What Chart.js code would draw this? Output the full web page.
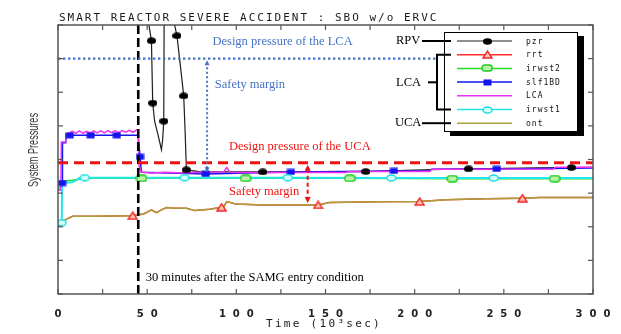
<!DOCTYPE html>
<html>
<head>
<meta charset="utf-8">
<title>SMART reactor severe accident : SBO w/o ERVC</title>
<script src="https://cdn.jsdelivr.net/npm/chart.js@4.4.1/dist/chart.umd.min.js"></script>
<style>
  html, body { margin: 0; padding: 0; background: #fff; }
  #chart { display: block; }
</style>
</head>
<body>
<canvas id="chart" width="621" height="334"></canvas>
<script>
// time is in 10^3 s; the pressure axis of the source plot has no numbers,
// so values are in "tick units" (0..8, one unit per tick mark)
const xLabels = [0, 50, 100, 150, 200, 250, 300];
const xMinorStep = 25;

// RPV (pressurizer) - off the top of the scale until it depressurises
const pzrTime = [0, 50.5, 51.0, 52.4, 53.1, 54.2, 56.1, 58.0, 58.7, 59.3, 59.5, 60, 65, 65.4, 66.7, 68.6, 70.5, 71.3, 72.0, 80, 95, 114.8, 140, 165, 172.6, 209, 230.2, 270, 287.9, 300];
const pzrVal  = [9.5, 9.5, 8.0, 7.53, 5.68, 5.13, 4.73, 4.29, 4.6, 5.14, 8.0, 9.5, 9.5, 8.0, 7.68, 6.8, 5.89, 4.8, 3.69, 3.63, 3.63, 3.63, 3.63, 3.64, 3.64, 3.70, 3.72, 3.75, 3.76, 3.77];
const pzrMarks = [52.4, 53.1, 59.3, 66.7, 70.5, 72.0, 114.8, 172.6, 230.2, 287.9];

// LCA
const lcaTime = [0, 1.6, 1.9, 4.2, 4.4, 6, 8, 10, 12, 14, 16, 18, 20, 22, 24, 26, 28, 30, 32, 34, 36, 38, 40, 42, 44.2, 45.0, 45.5, 46.6, 52, 60, 70, 80, 90, 93, 94.6, 96.5, 100, 130, 161, 163, 200, 208.4, 209.5, 278, 279, 300];
const lcaVal  = [3.1, 3.1, 4.52, 4.52, 4.76, 4.78, 4.84, 4.78, 4.85, 4.78, 4.84, 4.79, 4.85, 4.79, 4.85, 4.79, 4.86, 4.80, 4.86, 4.80, 4.86, 4.81, 4.87, 4.81, 4.88, 4.86, 3.80, 3.63, 3.60, 3.62, 3.60, 3.62, 3.62, 3.64, 3.76, 3.62, 3.61, 3.61, 3.61, 3.64, 3.64, 3.64, 3.71, 3.72, 3.77, 3.77];

// slf1BD (runs along the LCA curve)
const slfTime = [0, 2.0, 2.3, 2.5, 4.3, 4.5, 6.6, 18.3, 33.0, 44.8, 45.5, 46.0, 46.8, 82.8, 130.6, 188.4, 208.5, 209.5, 246.0, 300];
const slfVal  = [3.1, 3.1, 3.30, 4.50, 4.50, 4.72, 4.72, 4.72, 4.72, 4.72, 4.40, 4.08, 3.62, 3.57, 3.63, 3.66, 3.66, 3.71, 3.72, 3.75];
const slfMarks = [2.3, 6.6, 18.3, 33.0, 46.0, 82.8, 130.6, 188.4, 246.0];

// IRWST 2
const irwst2Time = [0, 2.2, 2.4, 8, 15, 46.8, 105.2, 163.6, 221.1, 278.5, 300];
const irwst2Val  = [3.15, 3.15, 3.36, 3.38, 3.44, 3.44, 3.44, 3.44, 3.43, 3.43, 3.43];
const irwst2Marks = [46.8, 105.2, 163.6, 221.1, 278.5];

// IRWST 1
const irwst1Time = [0, 2.1, 2.3, 8, 12, 15, 71, 128.8, 186.9, 244.3, 300];
const irwst1Val  = [2.12, 2.12, 3.30, 3.32, 3.44, 3.46, 3.46, 3.46, 3.45, 3.45, 3.45];
const irwst1Marks = [2.1, 15, 71, 128.8, 186.9, 244.3];

// UCA (containment); rrt follows the same curve
const ontTime = [0, 1, 2.5, 5.4, 8.2, 20, 30, 41.9, 45, 48, 52.4, 55.2, 58, 60.8, 64.4, 72, 76.7, 85, 91.7, 93, 94.6, 99.6, 114.8, 130, 145.8, 152.3, 180, 202.8, 217.7, 240, 260.4, 270, 300];
const ontVal  = [2.02, 2.03, 2.16, 2.24, 2.31, 2.31, 2.32, 2.33, 2.36, 2.38, 2.50, 2.42, 2.50, 2.57, 2.56, 2.55, 2.48, 2.52, 2.58, 2.60, 2.75, 2.68, 2.65, 2.65, 2.65, 2.72, 2.74, 2.75, 2.80, 2.83, 2.85, 2.87, 2.87];
const rrtMarks = [41.9, 91.7, 145.8, 202.8, 260.4];

// reference levels
const lcaDesign = 7.0;
const ucaDesign = 3.9;
const samgEntry = 45;
const lcaDesignEnd = 212.3;
const lcaMarginAt = 83.6, lcaMarginLow = 3.62;
const ucaMarginAt = 140, ucaMarginLow = 2.71;

const blue = '#4472c4';
const red = '#ee1111';

// --- marker sprites (the plot uses flat oval/box symbols) ---
function sprite(w, h, draw) {
    const c = document.createElement('canvas');
    c.width = w; c.height = h;
    draw(c.getContext('2d'), w, h);
    return c;
}
const markPzr = sprite(9, 7, (g, w, h) => {
    g.fillStyle = '#000';
    g.beginPath(); g.ellipse(w / 2, h / 2, w / 2, h / 2 - 0.3, 0, 0, Math.PI * 2); g.fill();
});
const markRrt = sprite(11, 9, g => {
    g.beginPath(); g.moveTo(5.5, 1); g.lineTo(10, 8); g.lineTo(1, 8); g.closePath();
    g.fillStyle = '#ffc8b4'; g.fill();
    g.strokeStyle = '#ee2a2a'; g.lineWidth = 1.4; g.stroke();
});
const markIrwst2 = sprite(12, 8, g => {
    g.beginPath(); g.roundRect(1, 1, 10, 6, 2.5);
    g.fillStyle = '#b8f4a8'; g.fill();
    g.strokeStyle = '#22cc22'; g.lineWidth = 1.4; g.stroke();
});
const markSlf = sprite(9, 7, g => {
    g.fillStyle = '#1414ee'; g.fillRect(0.5, 0.5, 8, 6);
});
const markIrwst1 = sprite(11, 8, g => {
    g.beginPath(); g.ellipse(5.5, 4, 4.5, 3, 0, 0, Math.PI * 2);
    g.fillStyle = '#d4ffff'; g.fill();
    g.strokeStyle = '#18dcdc'; g.lineWidth = 1.4; g.stroke();
});

const series = [
    { name: 'pzr',    t: pzrTime,    v: pzrVal,    marks: pzrMarks,    color: '#1e1e1e', width: 1.2, mark: markPzr },
    { name: 'rrt',    t: ontTime,    v: ontVal,    marks: rrtMarks,    color: '#ff2a2a', width: 1.5, mark: markRrt },
    { name: 'irwst2', t: irwst2Time, v: irwst2Val, marks: irwst2Marks, color: '#22dd22', width: 1.5, mark: markIrwst2 },
    { name: 'slf1BD', t: slfTime,    v: slfVal,    marks: slfMarks,    color: '#1414ee', width: 1.5, mark: markSlf },
    { name: 'LCA',    t: lcaTime,    v: lcaVal,    marks: [],          color: '#f030f0', width: 1.5, mark: null },
    { name: 'irwst1', t: irwst1Time, v: irwst1Val, marks: irwst1Marks, color: '#22e6ee', width: 2,   mark: markIrwst1 },
    { name: 'ont',    t: ontTime,    v: ontVal,    marks: [],          color: '#aaa03a', width: 1.5, mark: null }
];

const datasets = [];
series.forEach((s, i) => {
    const pts = s.t.map((x, k) => ({ x: x, y: s.v[k] }));
    datasets.push({
        label: s.name, data: pts, borderColor: s.color, borderWidth: s.width,
        pointRadius: 0, tension: 0, order: 20 - i
    });
    if (s.marks.length) {
        datasets.push({
            label: s.name + ' symbols', data: pts.filter(p => s.marks.includes(p.x)),
            showLine: false, pointStyle: s.mark, pointRadius: 4, order: 8 - i
        });
    }
});

function hline(ctx, x1, y1, x2, y2) {
    ctx.beginPath(); ctx.moveTo(x1, y1); ctx.lineTo(x2, y2); ctx.stroke();
}
function arrowHead(ctx, x, y, dir, w, h, color) {
    ctx.fillStyle = color;
    ctx.beginPath();
    ctx.moveTo(x, y);
    ctx.lineTo(x - w / 2, y - dir * h);
    ctx.lineTo(x + w / 2, y - dir * h);
    ctx.closePath(); ctx.fill();
}

const notes = [
    { text: 'Design pressure of the LCA', x: 86.6, y: 7.49, color: blue },
    { text: 'Safety margin', x: 87.9, y: 6.22, color: blue },
    { text: 'Design pressure of the UCA', x: 95.9, y: 4.38, color: red },
    { text: 'Safety margin', x: 95.9, y: 3.05, color: red },
    { text: '30 minutes after the SAMG entry condition', x: 49.2, y: 0.48, color: '#000' }
];

const overlay = {
    id: 'overlay',
    beforeDraw(chart) {
        const ctx = chart.ctx;
        ctx.save();
        ctx.fillStyle = '#fff';
        ctx.fillRect(0, 0, chart.width, chart.height);
        ctx.restore();
        ctx.letterSpacing = '7px';   // wide plotter digits on the time axis
    },
    beforeDatasetsDraw(chart) {
        chart.ctx.letterSpacing = '0px';
    },
    afterDatasetsDraw(chart) {
        const ctx = chart.ctx;
        const xs = chart.scales.x, ys = chart.scales.y;
        const { left, right, top, bottom } = chart.chartArea;
        ctx.save();

        // 30 min after SAMG entry
        ctx.strokeStyle = '#000'; ctx.lineWidth = 2.6; ctx.setLineDash([9, 4]);
        const sx = xs.getPixelForValue(samgEntry);
        hline(ctx, sx, top, sx, bottom);

        // UCA design pressure
        ctx.strokeStyle = red; ctx.lineWidth = 3; ctx.setLineDash([10, 6]);
        const uy = ys.getPixelForValue(ucaDesign);
        hline(ctx, left, uy, right, uy);

        // LCA design pressure
        ctx.strokeStyle = blue; ctx.lineWidth = 2.4; ctx.setLineDash([2.4, 2.6]);
        const ly = ys.getPixelForValue(lcaDesign);
        hline(ctx, left, ly, xs.getPixelForValue(lcaDesignEnd), ly);

        // LCA safety margin arrow
        const ax = xs.getPixelForValue(lcaMarginAt);
        const aLow = ys.getPixelForValue(lcaMarginLow);
        ctx.lineWidth = 2; ctx.setLineDash([2, 2.5]);
        hline(ctx, ax, ly + 4, ax, aLow - 4);
        ctx.setLineDash([]);
        arrowHead(ctx, ax, ly + 1.5, -1, 5, 5, blue);
        arrowHead(ctx, ax, aLow, 1, 5, 5, blue);

        // UCA safety margin arrow
        const bx = xs.getPixelForValue(ucaMarginAt);
        const bLow = ys.getPixelForValue(ucaMarginLow);
        ctx.strokeStyle = red; ctx.lineWidth = 2; ctx.setLineDash([4, 3]);
        hline(ctx, bx, uy + 6, bx, bLow - 6);
        ctx.setLineDash([]);
        arrowHead(ctx, bx, uy + 2, -1, 6, 6, red);
        arrowHead(ctx, bx, bLow, 1, 6, 6, red);

        // notes
        ctx.font = '12.5px "Liberation Serif", "DejaVu Serif", serif';
        ctx.textBaseline = 'middle'; ctx.textAlign = 'left';
        notes.forEach(n => {
            ctx.fillStyle = n.color;
            ctx.fillText(n.text, xs.getPixelForValue(n.x), ys.getPixelForValue(n.y));
        });
        ctx.restore();
    },
    afterDraw(chart) {
        const ctx = chart.ctx;
        const xs = chart.scales.x, ys = chart.scales.y;
        const { left, right, top, bottom } = chart.chartArea;
        ctx.save();
        ctx.letterSpacing = '0px';

        // frame with inward ticks on all four sides
        ctx.strokeStyle = '#555'; ctx.lineWidth = 1.5;
        ctx.strokeRect(left, top, right - left, bottom - top);
        ctx.lineWidth = 1.2;
        xs.ticks.forEach(t => {
            const px = xs.getPixelForValue(t.value);
            hline(ctx, px, bottom, px, bottom - 5);
            hline(ctx, px, top, px, top + 5);
        });
        ys.ticks.forEach(t => {
            const py = ys.getPixelForValue(t.value);
            hline(ctx, left, py, left + 5, py);
            hline(ctx, right, py, right - 5, py);
        });

        // title and axis titles
        ctx.fillStyle = '#1a1a1a';
        ctx.font = '11px "DejaVu Sans Mono", monospace';
        ctx.textAlign = 'left'; ctx.textBaseline = 'alphabetic';
        ctx.letterSpacing = '2px';
        ctx.fillText('SMART REACTOR SEVERE ACCIDENT : SBO w/o ERVC', 59, 20.5);
        ctx.letterSpacing = '2.3px';
        ctx.fillText('Time (10\u00b3sec)', 266, 327);
        ctx.letterSpacing = '0px';

        ctx.save();
        ctx.translate(33.5, 150);
        ctx.rotate(-Math.PI / 2);
        ctx.font = '15px "Liberation Sans Narrow", "Liberation Sans", sans-serif';
        const yt = 'System Pressures';
        const wt = ctx.measureText(yt).width;
        ctx.scale(74 / wt, 1);
        ctx.fillStyle = '#3a3a3a';
        ctx.textAlign = 'center'; ctx.textBaseline = 'middle';
        ctx.fillText(yt, 0, 0);
        ctx.restore();

        // legend box with drop shadow
        const bx = 444, by = 32, bw = 134, bh = 100;
        ctx.fillStyle = '#000';
        ctx.fillRect(bx + 6, by + 4, bw, bh);
        ctx.fillStyle = '#fff';
        ctx.fillRect(bx, by, bw, bh);
        ctx.strokeStyle = '#000'; ctx.lineWidth = 1;
        ctx.strokeRect(bx + 0.5, by + 0.5, bw - 1, bh - 1);

        const rowY = i => 41 + i * 13.7;
        ctx.font = '8px "DejaVu Sans Mono", monospace';
        ctx.letterSpacing = '1px';
        ctx.textBaseline = 'middle'; ctx.textAlign = 'left';
        series.forEach((s, i) => {
            const y = rowY(i);
            ctx.strokeStyle = s.color; ctx.lineWidth = s.name === 'pzr' ? 1 : 1.5;
            hline(ctx, 457, y, 512, y);
            if (s.mark) ctx.drawImage(s.mark, Math.round(487 - s.mark.width / 2), Math.round(y - s.mark.height / 2));
            ctx.fillStyle = '#111';
            ctx.fillText(s.name, 526, y + 0.5);
        });
        ctx.letterSpacing = '0px';

        // RPV / LCA / UCA grouping
        ctx.strokeStyle = '#000'; ctx.lineWidth = 2;
        hline(ctx, 422, rowY(0), 451, rowY(0));
        hline(ctx, 422, rowY(6), 451, rowY(6));
        ctx.beginPath();
        ctx.moveTo(451, rowY(1)); ctx.lineTo(437, rowY(1)); ctx.lineTo(437, rowY(5)); ctx.lineTo(451, rowY(5));
        ctx.stroke();
        hline(ctx, 428, 82.3, 437, 82.3);
        ctx.fillStyle = '#000';
        ctx.font = '12.5px "Liberation Serif", "DejaVu Serif", serif';
        ctx.textAlign = 'left'; ctx.textBaseline = 'middle';
        ctx.fillText('RPV', 396, rowY(0));
        ctx.fillText('LCA', 396, 82.3);
        ctx.fillText('UCA', 395, rowY(6));
        ctx.restore();
    }
};

new Chart(document.getElementById('chart'), {
    type: 'line',
    data: { datasets: datasets },
    options: {
        responsive: false,
        animation: false,
        devicePixelRatio: 1,
        events: [],
        layout: { padding: { left: 58, right: 28, top: 25, bottom: 0 } },
        plugins: { legend: { display: false }, tooltip: { enabled: false } },
        scales: {
            x: {
                type: 'linear', min: 0, max: 300,
                afterFit: s => { s.height = 40; },
                grid: { display: false, drawTicks: false },
                border: { display: false },
                ticks: {
                    stepSize: xMinorStep, autoSkip: false, maxRotation: 0,
                    padding: 14.5, labelOffset: 3.5, color: '#222',
                    font: { family: 'DejaVu Sans', size: 10, weight: 'bold' },
                    callback: v => xLabels.includes(v) ? String(v) : ''
                }
            },
            y: {
                min: 0, max: 8, display: false,
                ticks: { stepSize: 1 }
            }
        }
    },
    plugins: [overlay]
});
</script>
</body>
</html>
